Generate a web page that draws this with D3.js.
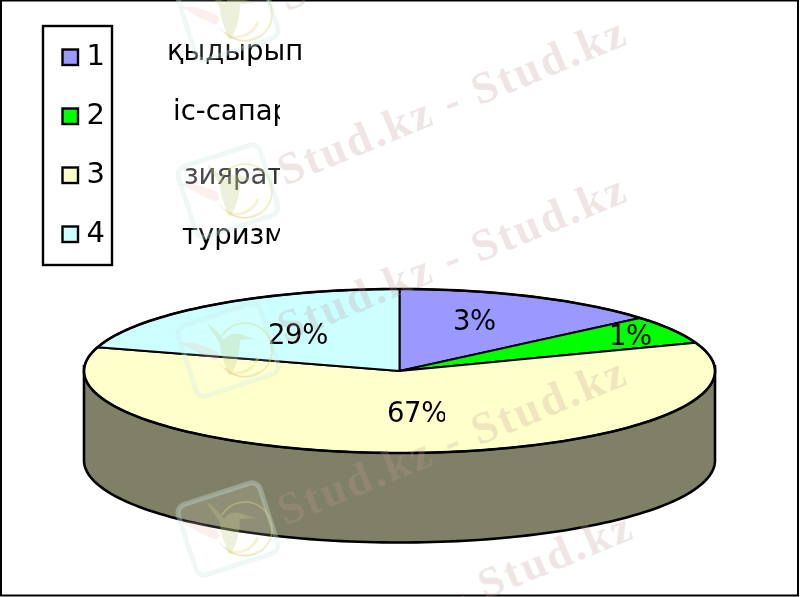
<!DOCTYPE html>
<html><head><meta charset="utf-8">
<script src="https://cdn.jsdelivr.net/npm/d3@7/dist/d3.min.js"></script>
<style>html,body{margin:0;padding:0;background:#fff}svg{display:block}text{font-family:"DejaVu Sans",sans-serif;fill:#000}</style>
</head><body><svg id="c" width="800" height="597"></svg>
<script>
const legendKeys = ["1","2","3","4"];
const legendNames = ["қыдырып","іс-сапар","зиярат","туризм"];
const drawnShares = [13.8,5.6,60.3,20.3];
const pctLabels = ["3%","1%","67%","29%"];
const sliceColors = ["#9999ff","#00ff00","#ffffcc","#ccffff"];
const sideColor = "#808066";
const watermarkLines = ["S","Stud.kz - Stud.kz","Stud.kz - Stud.kz","Stud.kz - Stud.kz","- Stud.kz"];

const svg = d3.select("#c");
const root = svg.append("g").style("filter","blur(0.45px)");
root.append("rect").attr("x",1).attr("y",0.5).attr("width",797).attr("height",595).attr("fill","#fff").attr("stroke","#000").attr("stroke-width",2);

// pie geometry
const cx=399.5, cy=371, rx=315.5, ry=82, depth=89.5;
const px=t=>cx+rx*Math.sin(t), py=t=>cy-ry*Math.cos(t);
const line=d3.line().x(d=>d[0]).y(d=>d[1]);
const arcs=d3.pie().sort(null)(drawnShares);

// side wall
const sideAngles=d3.range(Math.PI/2,3*Math.PI/2+1e-6,Math.PI/120);
const sidePts=[[px(Math.PI/2),py(Math.PI/2)-6]].concat(sideAngles.map(t=>[px(t),py(t)+depth]),[[px(3*Math.PI/2),py(3*Math.PI/2)-6]]);
root.append("path").attr("d",line(sidePts)).attr("fill",sideColor).attr("stroke","#000").attr("stroke-width",2.6);

// top slices
root.selectAll("path.s").data(arcs).join("path").attr("class","s")
 .attr("d",a=>{
   const n=Math.max(4,Math.ceil((a.endAngle-a.startAngle)/(Math.PI/120)));
   const pts=d3.range(n+1).map(i=>{const t=a.startAngle+(a.endAngle-a.startAngle)*i/n;return [px(t),py(t)];});
   return line([[cx,cy],...pts])+"Z";
 })
 .attr("fill",(a,i)=>sliceColors[i]).attr("stroke","#000").attr("stroke-width",2).attr("stroke-linejoin","round");
// outer rim, heavier than the slice dividers
root.append("path").attr("d",line(d3.range(0,2*Math.PI+.01,Math.PI/120).map(t=>[px(t),py(t)]))).attr("fill","none").attr("stroke","#000").attr("stroke-width",2.6);

// percent labels, clipped as in the source image
const defs=svg.append("defs");
const pctPos=[[453,330,497],[609,345,653],[387,422,445],[268,344,327]];
pctLabels.forEach((t,i)=>{
  const [x,y,r]=pctPos[i];
  defs.append("clipPath").attr("id","pc"+i).append("rect").attr("x",x-4).attr("y",y-30).attr("width",r-x+4).attr("height",40);
  root.append("g").attr("clip-path",`url(#pc${i})`).append("text").attr("x",x).attr("y",y).attr("font-size",27.5).attr("letter-spacing",-0.4).text(t);
});

// legend
root.append("rect").attr("x",43).attr("y",26).attr("width",69).attr("height",239).attr("fill","none").attr("stroke","#000").attr("stroke-width",2.4);
const ly=d3.scalePoint().domain(legendKeys).range([57,234]);
legendKeys.forEach((k,i)=>{
  root.append("rect").attr("x",62.5).attr("y",ly(k)-7.5).attr("width",15.5).attr("height",15.5).attr("fill",sliceColors[i]).attr("stroke","#000").attr("stroke-width",2.4);
  root.append("text").attr("x",86.5).attr("y",ly(k)+8).attr("font-size",29).text(k);
});

// category names, cut off at their text frames
const namePos=[[167,60,303],[173,120,280],[184,184,280],[182,244,280]];
legendNames.forEach((t,i)=>{
  const [x,y,r]=namePos[i];
  defs.append("clipPath").attr("id","nc"+i).append("rect").attr("x",x-4).attr("y",y-30).attr("width",r-x+4).attr("height",42);
  root.append("g").attr("clip-path",`url(#nc${i})`).append("text").attr("x",x).attr("y",y).attr("font-size",27.5).style("fill",i==2?"#333":"#000").text(t);
});

// watermark
const wm=svg.append("g").style("filter","blur(0.6px)");
[[228,14],[228,191],[228,350],[228,529]].forEach(([x,y])=>{
  const g=wm.append("g").attr("transform",`translate(${x},${y})`);
  g.append("rect").attr("x",-43).attr("y",-37).attr("width",86).attr("height",74).attr("rx",9).attr("transform","rotate(-18)")
   .attr("fill","rgba(255,255,255,.12)").attr("stroke","rgba(205,235,232,.33)").attr("stroke-width",5);
  g.append("path").attr("d","M-48,-7C-35,-9 -22,-4 -10,2C-8,10 -10,10 -14,10C-25,6 -38,-2 -48,-7Z").attr("fill","rgba(235,180,170,.2)");
  g.append("path").attr("d","M-21,-27C-14,-22 -8,-16 -4,-10C0,-16 8,-18 14,-15L27,-11L12,-10C12,0 10,14 2,26C-4,14 -8,2 -8,-6C-12,-14 -18,-20 -21,-27Z").attr("fill","rgba(195,205,135,.3)");
  g.append("path").attr("d","M-6,-14A27,27 0 1 1 -3,18").attr("fill","none").attr("stroke","rgba(215,215,120,.45)").attr("stroke-width",1.5);
  g.append("path").attr("d","M30,8A24,24 0 0 1 0,22").attr("fill","none").attr("stroke","rgba(235,225,140,.4)").attr("stroke-width",3);
  g.append("path").attr("d","M30,22A28,28 0 0 1 -8,14").attr("fill","none").attr("stroke","rgba(240,190,180,.3)").attr("stroke-width",1.2);
});
[[287,12],[285,186],[285,343],[285,526],[456,612]].forEach(([x,y],i)=>{
  wm.append("text").attr("transform",`translate(${x},${y}) rotate(-22.5)`)
    .attr("font-size",45).attr("font-weight","bold").attr("letter-spacing",2.6)
    .style("font-family","'Liberation Serif',serif").style("fill","rgba(190,150,150,.25)").text(watermarkLines[i]);
});
</script></body></html>
